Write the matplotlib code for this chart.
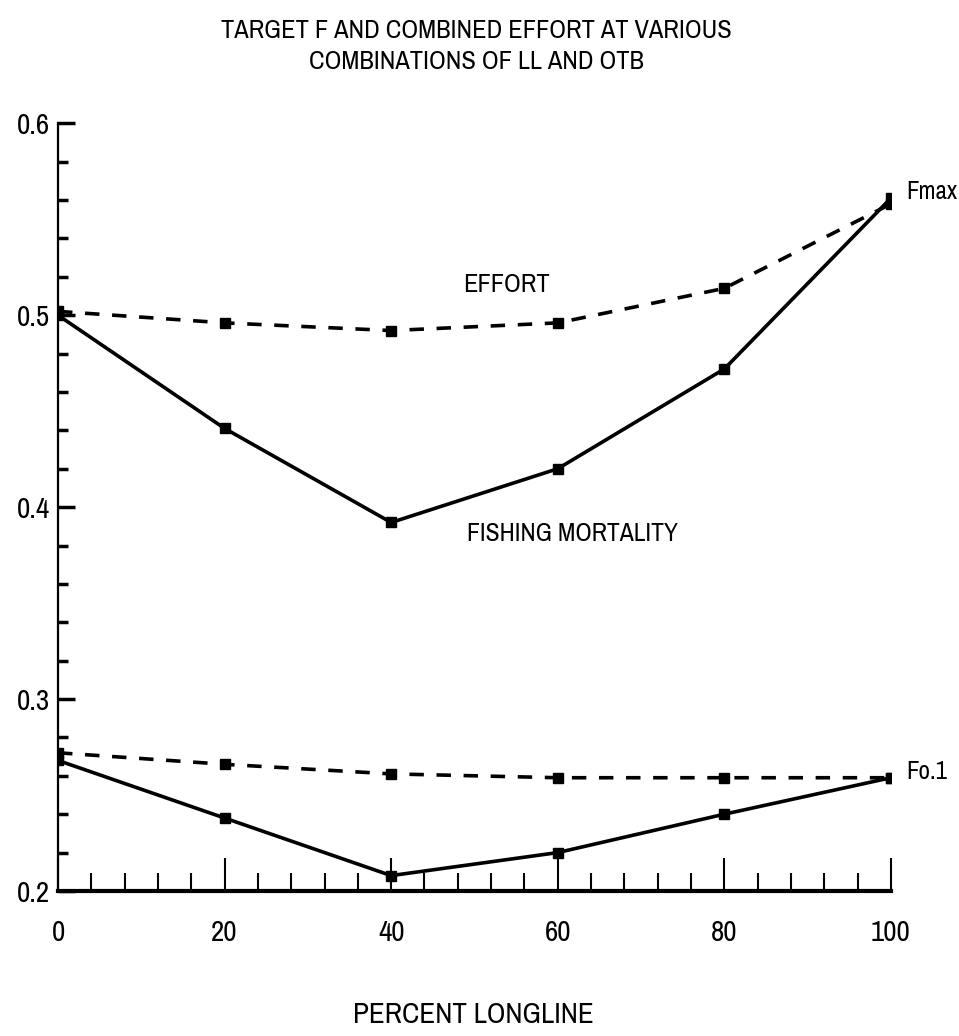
import matplotlib
matplotlib.use("Agg")
import matplotlib.pyplot as plt
from matplotlib import font_manager
from matplotlib.ticker import MultipleLocator

# data
pct_longline = [0, 20, 40, 60, 80, 100]
f_max = [0.500, 0.441, 0.392, 0.420, 0.472, 0.561]
effort_max = [0.502, 0.496, 0.492, 0.496, 0.514, 0.558]
f_01 = [0.268, 0.238, 0.208, 0.220, 0.240, 0.259]
effort_01 = [0.272, 0.266, 0.261, 0.259, 0.259, 0.259]

y_ticks = [0.2, 0.3, 0.4, 0.5, 0.6]
y_tick_labels = ["0.2", "0.3", "0.4", "0.5", "0.6"]
x_ticks = [0, 20, 40, 60, 80, 100]

# pick a narrow font if one is installed
names = {f.name for f in font_manager.fontManager.ttflist}
narrow = sorted(n for n in names if "Narrow" in n or "Condensed" in n)
font = narrow[:1] + ["Liberation Serif", "DejaVu Serif"]
plt.rcParams["font.family"] = font

fig = plt.figure(figsize=(9.59, 10.36), dpi=100)
ax = fig.add_axes([0.0605, 0.14, 0.8685, 0.741])

ax.plot(pct_longline, f_max, color="black", lw=2.6, marker="s", ms=7)
ax.plot(pct_longline, effort_max, color="black", lw=2.6, ls=(0, (4, 3.5)),
        marker="s", ms=6.5)
ax.plot(pct_longline, f_01, color="black", lw=2.6, marker="s", ms=7)
ax.plot(pct_longline, effort_01, color="black", lw=2.6, ls=(0, (4, 3.5)),
        marker="s", ms=6.5)

ax.set_xlim(0, 100)
ax.set_ylim(0.2, 0.6)
ax.spines["top"].set_visible(False)
ax.spines["right"].set_visible(False)
ax.spines["bottom"].set_linewidth(3)
ax.spines["left"].set_linewidth(1.6)

ax.set_xticks(x_ticks)
ax.xaxis.set_minor_locator(MultipleLocator(4))
ax.set_yticks(y_ticks)
ax.set_yticklabels(y_tick_labels)
ax.yaxis.set_minor_locator(MultipleLocator(0.02))
ax.tick_params(axis="x", which="major", direction="in", length=24, width=1.5,
               labelsize=21, pad=20)
ax.tick_params(axis="x", which="minor", direction="in", length=13, width=1.5)
ax.tick_params(axis="y", which="major", direction="in", length=12, width=2.5,
               labelsize=21, pad=6)
ax.tick_params(axis="y", which="minor", direction="in", length=7, width=2.5)

fig.text(0.494, 0.021, "PERCENT LONGLINE", ha="center", va="center", fontsize=21)

fig.text(0.497, 0.982, "TARGET F AND COMBINED EFFORT AT VARIOUS\nCOMBINATIONS OF LL AND OTB",
         ha="center", va="top", fontsize=19, linespacing=1.45)

ax.text(53.8, 0.516, "EFFORT", ha="center", va="center", fontsize=19)
ax.text(49.1, 0.386, "FISHING MORTALITY", ha="left", va="center", fontsize=18.5)
ax.text(101.8, 0.5646, "Fmax", ha="left", va="center", fontsize=18, clip_on=False)
ax.text(101.8, 0.2625, "Fo.1", ha="left", va="center", fontsize=18, clip_on=False)

fig.savefig("out.png", dpi=100)
